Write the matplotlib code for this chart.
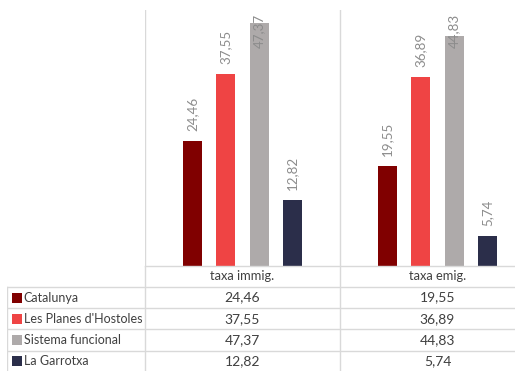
import matplotlib.pyplot as plt
import numpy as np

categories = ["taxa immig.", "taxa emig."]
series = ["Catalunya", "Les Planes d'Hostoles", "Sistema funcional", "La Garrotxa"]
catalunya = [24.46, 19.55]
planes = [37.55, 36.89]
sistema = [47.37, 44.83]
garrotxa = [12.82, 5.74]
values = [catalunya, planes, sistema, garrotxa]
colors = ["#800000", "#EF4444", "#AEAAAA", "#2B2E4A"]

plt.rcParams['font.family'] = ['Lato', 'DejaVu Sans']

W, H = 515, 371
fig = plt.figure(figsize=(W / 100, H / 100), dpi=100)

# plot area (in pixels of the reference picture)
left, base, top, right = 145, 265.7, 10, 535
ax = fig.add_axes([left / W, (H - base) / H, (right - left) / W, (base - top) / H])
ymax = 50
ax.set_xlim(0, 2)
ax.set_ylim(0, ymax)
ax.axis('off')

px_per_unit = (base - top) / ymax
offsets = np.array([-1.5, -0.5, 0.5, 1.5]) * 0.171
bw = 0.096
xc = np.arange(len(categories)) + 0.5
for k, name in enumerate(series):
    xs = xc + offsets[k]
    ax.bar(xs, values[k], width=bw, color=colors[k], zorder=3)
    for x, v in zip(xs, values[k]):
        lab = f"{v:.2f}".replace(".", ",")
        if v + 37 / px_per_unit > ymax - 4 / px_per_unit:
            ax.annotate(lab, (x, ymax), xytext=(0, -4), textcoords='offset pixels',
                        rotation=90, ha='center', va='top', fontsize=9.6, color='#8c8c8c', zorder=4)
        else:
            ax.annotate(lab, (x, v), xytext=(0, 10), textcoords='offset pixels',
                        rotation=90, ha='center', va='bottom', fontsize=9.6, color='#8c8c8c', zorder=4)

for x in range(len(categories) + 1):
    ax.axvline(x, color='#d9d9d9', lw=1, zorder=1)

# data table under the chart
tleft = 7
th = H - base
tab = fig.add_axes([tleft / W, 0, (right - tleft) / W, th / H])
x0 = (tleft - left) / (right - left) * 2
tab.set_xlim(x0, 2)
tab.set_ylim(th, 0)
tab.axis('off')
rh = 21.2
lc = '#d9d9d9'
tab.plot([0, 2], [0, 0], color=lc, lw=1, clip_on=False)
for i in range(1, len(series) + 1):
    tab.plot([x0, 2], [i * rh, i * rh], color=lc, lw=1)
tab.plot([x0, x0], [rh, th], color=lc, lw=1)
for x in range(len(categories) + 1):
    tab.plot([x, x], [0, th], color=lc, lw=1)

tc = '#404040'
fs = 9.3
for j, c in enumerate(categories):
    tab.text(xc[j], rh / 2, c, ha='center', va='center', fontsize=fs, color=tc)
unit = 2 / (right - left)
for i, name in enumerate(series):
    yc = (i + 1.5) * rh
    tab.scatter([x0 + 9.5 * unit], [yc], marker='s', s=42, color=colors[i], linewidths=0)
    tab.text(x0 + 16.5 * unit, yc, name, ha='left', va='center', fontsize=9, color=tc)
    for j in range(len(categories)):
        tab.text(xc[j], yc, f"{values[i][j]:.2f}".replace(".", ","),
                 ha='center', va='center', fontsize=10, color=tc)

fig.savefig("out.png", dpi=100)
